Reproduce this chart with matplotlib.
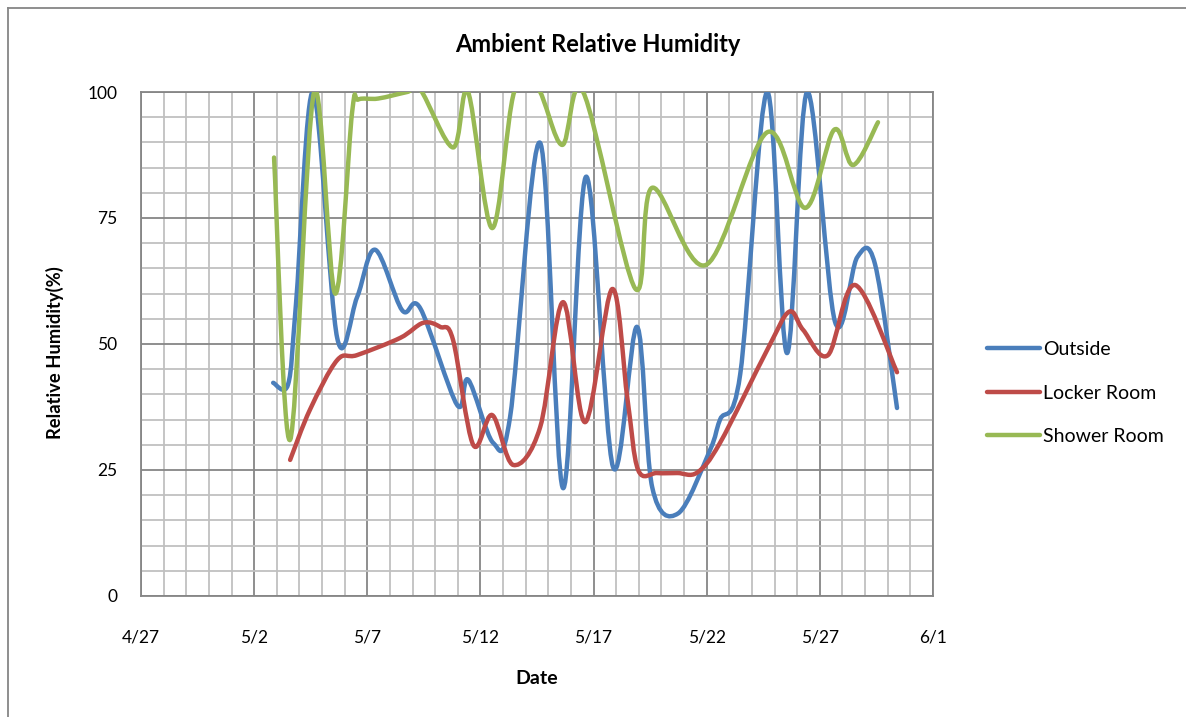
import matplotlib
matplotlib.use('Agg')
import matplotlib.pyplot as plt
from matplotlib.path import Path
from matplotlib.patches import PathPatch
from matplotlib.lines import Line2D
import numpy as np

plt.rcParams['font.family'] = ['Lato', 'DejaVu Sans']

# x values are days in May (0 = 4/30)
outside_day = [2.84, 3.50, 3.85, 4.61, 5.67, 6.55, 7.35, 8.54, 9.34, 10.97, 11.46, 12.56, 13.31,
               14.64, 15.65, 16.67, 17.86, 18.92, 19.59, 20.74, 22.15, 22.59, 23.48,
               24.67, 25.55, 26.44, 27.67, 28.65, 29.44, 30.41]
outside_rh = [42.3, 42.0, 58, 100, 51.2, 59.3, 68.7, 56.7, 57.1, 37.9, 42.9, 30.4, 35.5,
              89.9, 21.4, 83.2, 25.6, 53.4, 21.6, 16.4, 29, 35, 44,
              100, 48.2, 100, 54.4, 67.2, 65.8, 37.3]

locker_day = [3.59, 4.47, 5.67, 6.55, 8.45, 9.47, 10.22, 10.79, 11.68, 12.52, 13.45, 14.64,
              15.65, 16.63, 17.82, 18.5, 18.97, 19.8, 20.7, 21.58, 22.59, 24.67, 25.64, 26.26,
              27.36, 28.56, 30.41]
locker_rh = [27, 37, 46.8, 47.8, 51.2, 54.2, 53.4, 50.8, 30, 35.9, 26, 33.5,
             58.3, 34.5, 60.9, 39, 25.0, 24.4, 24.4, 24.5, 30.4, 48.8, 56.4, 52.8,
             47.8, 61.7, 44.4]

shower_day = [2.88, 3.59, 4.65, 5.58, 6.33, 6.6, 7.48, 8.76, 9.34, 10.79, 11.45, 12.52,
              13.49, 14.51, 15.61, 16.54, 18.84, 19.59, 21.97, 24.67, 26.35, 27.63, 28.47, 29.57]
shower_rh = [87, 31, 100, 60, 96, 98.5, 98.7, 100, 100.5, 89, 100, 73,
             100, 101, 89.5, 100, 61, 81, 65.7, 92, 77, 92.5, 85.5, 94]

tick_days = [-3, 2, 7, 12, 17, 22, 27, 32]
tick_labels = ['4/27', '5/2', '5/7', '5/12', '5/17', '5/22', '5/27', '6/1']

series = [('Outside', outside_day, outside_rh, '#4a7ebb'),
          ('Locker Room', locker_day, locker_rh, '#be4b48'),
          ('Shower Room', shower_day, shower_rh, '#98b954')]


def smooth_path(xs, ys):
    # Excel style smoothed line: cubic bezier segments (Catmull-Rom tangents)
    p = np.column_stack([xs, ys]).astype(float)
    n = len(p)
    verts = [p[0]]
    codes = [Path.MOVETO]
    for i in range(n - 1):
        p0 = p[i - 1] if i > 0 else p[i]
        p3 = p[i + 2] if i + 2 < n else p[i + 1]
        c1 = p[i] + (p[i + 1] - p0) / 6.0
        c2 = p[i + 1] - (p3 - p[i]) / 6.0
        verts += [c1, c2, p[i + 1]]
        codes += [Path.CURVE4] * 3
    return Path(verts, codes)


fig = plt.figure(figsize=(11.86, 7.17), dpi=100)
ax = fig.add_axes([141 / 1186, 1 - 596 / 717, (933 - 141) / 1186, (596 - 92) / 717])

handles = []
for name, xs, ys, color in series:
    patch = PathPatch(smooth_path(xs, ys), fill=False, edgecolor=color, lw=3.2,
                      capstyle='round', joinstyle='round', zorder=3)
    ax.add_patch(patch)
    handles.append(Line2D([], [], color=color, lw=3.2, solid_capstyle='round', label=name))

ax.set_xlim(-3, 32)
ax.set_ylim(0, 100)
ax.set_xticks(tick_days)
ax.set_xticklabels(tick_labels)
ax.set_xticks(np.arange(-3, 33, 1), minor=True)
ax.set_yticks([0, 25, 50, 75, 100])
ax.set_yticks(np.arange(0, 101, 5), minor=True)
ax.grid(which='minor', color='#c0c0c0', lw=1.3, zorder=1)
ax.grid(which='major', color='#868686', lw=1.3, zorder=1)
ax.set_axisbelow(True)
for s in ax.spines.values():
    s.set_color('#868686')
    s.set_linewidth(1.3)
ax.tick_params(which='both', length=0)
ax.tick_params(axis='x', pad=24, labelsize=12.5)
ax.tick_params(axis='y', pad=17, labelsize=12.5)

fig.text(598 / 1186, 1 - 45 / 717, 'Ambient Relative Humidity', ha='center', va='center',
         fontsize=17, fontweight='bold')
fig.text(537 / 1186, 1 - 678 / 717, 'Date', ha='center', va='center',
         fontsize=14, fontweight='bold')
fig.text(55 / 1186, 1 - 353 / 717, 'Relative Humidity(%)', ha='center', va='center',
         rotation=90, fontsize=13.2, fontweight='bold')

fig.legend(handles=handles, loc='center left', bbox_to_anchor=(969 / 1186, 1 - 393 / 717),
           frameon=False, fontsize=14, handlelength=2.75, labelspacing=1.35, handletextpad=0.15)

# chart area border
fig.add_artist(Line2D([8 / 1186, 8 / 1186], [0, 1 - 8 / 717], color='#868686', lw=1.3))
fig.add_artist(Line2D([8 / 1186, 1], [1 - 8 / 717, 1 - 8 / 717], color='#868686', lw=1.3))

plt.savefig('out.png', dpi=100)
